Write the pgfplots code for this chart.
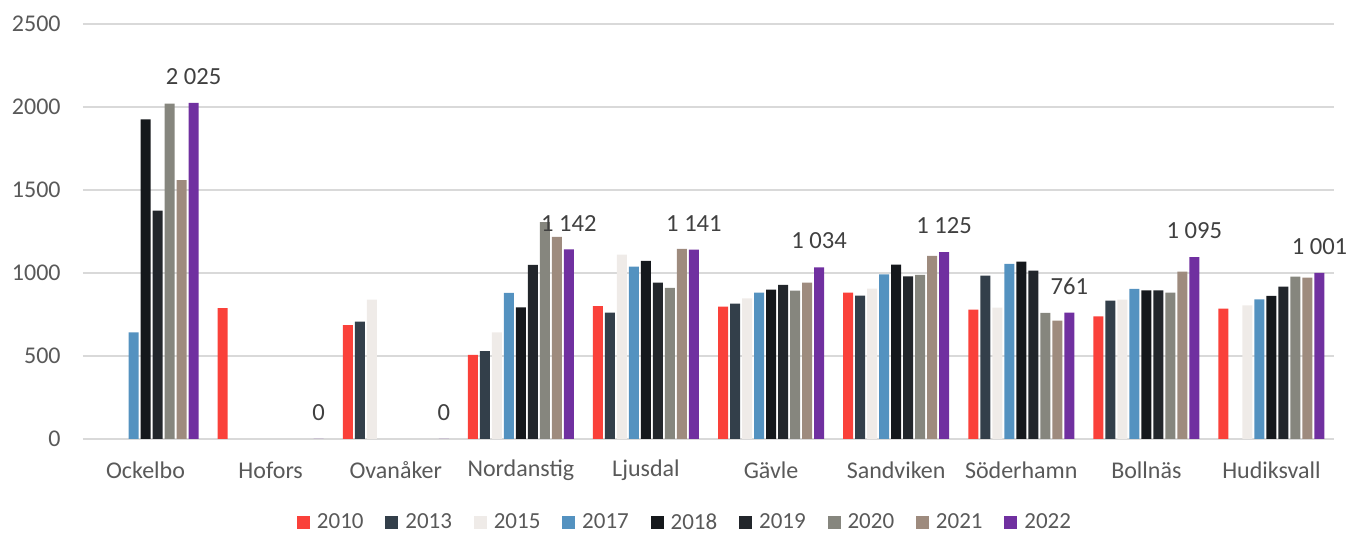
\documentclass[border=0pt]{standalone}
\usepackage{fontspec}
\setmainfont{Carlito}
\usepackage{pgfplots}
\pgfplotsset{compat=1.18}

\definecolor{c2010}{RGB}{250,65,58}
\definecolor{c2013}{RGB}{51,63,74}
\definecolor{c2015}{RGB}{239,235,232}
\definecolor{c2017}{RGB}{84,146,192}
\definecolor{c2018}{RGB}{21,24,28}
\definecolor{c2019}{RGB}{34,38,43}
\definecolor{c2020}{RGB}{134,134,126}
\definecolor{c2021}{RGB}{158,139,126}
\definecolor{c2022}{RGB}{112,48,160}
\definecolor{txt}{RGB}{89,89,89}
\definecolor{lbl}{RGB}{64,64,64}
\definecolor{grd}{RGB}{217,217,217}

\begin{document}
\begin{tikzpicture}
\begin{axis}[
  scale only axis,
  width=625.5pt, height=207.5pt,
  ybar=1pt, bar width=5pt,
  xmin=-0.5, xmax=9.5,
  ymin=0, ymax=2500,
  ytick={0,500,1000,1500,2000,2500},
  xtick={0,...,9},
  xticklabels={Ockelbo,Hofors,Ovanåker,Nordanstig,Ljusdal,Gävle,Sandviken,Söderhamn,Bollnäs,Hudiksvall},
  /pgf/number format/assume math mode=true,
  /pgf/number format/1000 sep={},
  axis line style={draw=none},
  tick style={draw=none},
  ymajorgrids, grid style={grd, line width=0.8pt},
  tick label style={font=\fontsize{12}{14}\selectfont, text=txt},
  yticklabel style={anchor=east, inner sep=0pt, xshift=-11pt},
  xticklabel style={anchor=center, inner sep=0pt, yshift=-11.5pt},
  legend columns=9,
  legend style={draw=none, fill=none, inner sep=1pt, at={(0.482,-0.202)}, anchor=center,
    font=\fontsize{11.5}{13}\selectfont, text=txt,
    /tikz/every odd column/.append style={column sep=1.5pt},
    /tikz/every even column/.append style={column sep=8.9pt}},
  legend image code/.code={\fill[#1] (0pt,-3.25pt) rectangle (6.5pt,3.25pt);},
]
\addplot[fill=c2010, draw=none] coordinates {(1,789)(2,686)(3,507)(4,801)(5,797)(6,882)(7,779)(8,739)(9,785)};
\addplot[fill=c2013, draw=none] coordinates {(2,707)(3,529)(4,761)(5,815)(6,864)(7,984)(8,833)};
\addplot[fill=c2015, draw=none] coordinates {(2,839)(3,642)(4,1111)(5,847)(6,906)(7,791)(8,839)(9,805)};
\addplot[fill=c2017, draw=none] coordinates {(0,642)(3,880)(4,1039)(5,882)(6,992)(7,1055)(8,904)(9,841)};
\addplot[fill=c2018, draw=none] coordinates {(0,1926)(3,793)(4,1073)(5,900)(6,1051)(7,1069)(8,896)(9,862)};
\addplot[fill=c2019, draw=none] coordinates {(0,1375)(3,1049)(4,942)(5,928)(6,980)(7,1014)(8,896)(9,918)};
\addplot[fill=c2020, draw=none] coordinates {(0,2020)(3,1306)(4,910)(5,894)(6,988)(7,759)(8,882)(9,978)};
\addplot[fill=c2021, draw=none] coordinates {(0,1560)(3,1218)(4,1146)(5,942)(6,1103)(7,713)(8,1008)(9,972)};
\addplot[fill=c2022, draw=none,
  nodes near coords={\pgfmathprintnumber[1000 sep={\ },assume math mode=true]{\pgfplotspointmeta}},
  every node near coord/.append style={anchor=south, inner sep=0pt, yshift=9pt,
    font=\fontsize{12.3}{15}\selectfont, text=lbl}]
  coordinates {(0,2025)(1,0)(2,0)(3,1142)(4,1141)(5,1034)(6,1125)(7,761)(8,1095)(9,1001)};
\legend{2010,2013,2015,2017,2018,2019,2020,2021,2022}
\end{axis}
\pgfresetboundingbox
\path[use as bounding box] ([xshift=-41.5pt,yshift=-47pt]current axis.south west) rectangle ++(675pt,266.5pt);
\end{tikzpicture}
\end{document}
